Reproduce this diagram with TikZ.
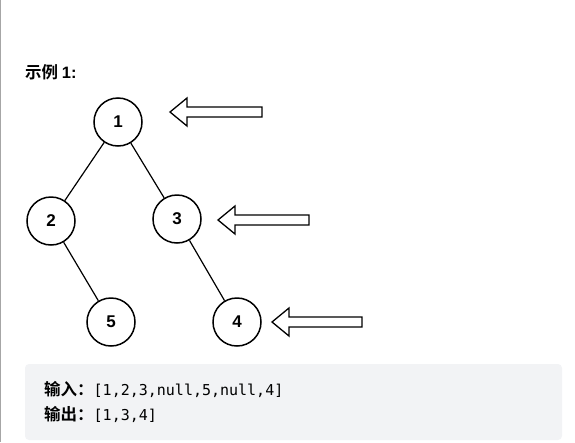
\documentclass[tikz,border=0pt]{standalone}
\usepackage{fontspec}
\setmainfont{Liberation Sans}
\newfontfamily\cjk{Noto Sans CJK SC}[BoldFont={Noto Sans CJK SC Bold}]
\newfontfamily\codefont{DejaVu Sans Mono}
\definecolor{codebg}{HTML}{F2F3F5}
\tikzset{treenode/.style = {draw, fill=white, line width=1.5pt, circle, minimum size=48pt, inner sep=0pt, font=\fontsize{17}{17}\selectfont\bfseries},
         edge/.style = {line width=1.2pt},
         pointer/.pic = {\draw[line width=1.3pt, fill=white] (0,0) -- (17,-14) -- (17,-5) -- (#1,-5)
                           -- (#1,5) -- (17,5) -- (17,14) -- cycle;}}
\begin{document}
\begin{tikzpicture}[x=1pt,y=-1pt]
        \useasboundingbox (0,0) rectangle (575,442);
        \draw[gray!70, line width=1pt](0.5,0)--(0.5,442);

        \node[anchor=west, inner sep=0pt, font=\fontsize{16.5}{16.5}\selectfont\bfseries] (title) at (25,72) {\cjk 示例 \rmfamily 1:};

        \node[treenode] (n1) at (118,122) {1};
        \node[treenode] (n2) at (51,221) {2};
        \node[treenode] (n3) at (177,219) {3};
        \node[treenode] (n5) at (111,322) {5};
        \node[treenode] (n4) at (237,322) {4};

        \draw[edge](n1)--(n2);
        \draw[edge](n1)--(n3);
        \draw[edge](n2)--(n5);
        \draw[edge](n3)--(n4);

        \draw(170,112)pic{pointer=92};
        \draw(218,220)pic{pointer=91};
        \draw(272,322)pic{pointer=90};

        \fill[codebg, rounded corners=4pt](25,364) rectangle (562,440);
        \node[anchor=west, inner sep=0pt] (input) at (44,389) {\cjk\fontsize{16.5}{16.5}\selectfont\bfseries 输入：\codefont\mdseries\fontsize{15}{15}\selectfont[1,2,3,null,5,null,4]};
        \node[anchor=west, inner sep=0pt] (output) at (44,414) {\cjk\fontsize{16.5}{16.5}\selectfont\bfseries 输出：\codefont\mdseries\fontsize{15}{15}\selectfont[1,3,4]};
    \end{tikzpicture}
\end{document}
